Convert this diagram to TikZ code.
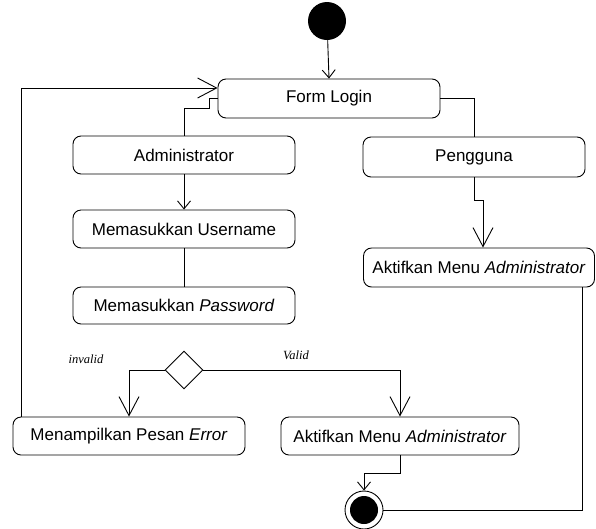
\documentclass[tikz,border=0pt]{standalone}
\usepackage{fontspec}
\setmainfont{Liberation Sans}
\newfontfamily\serifit{Liberation Serif}
\usetikzlibrary{arrows.meta,shapes.geometric,calc}
\begin{document}
\begin{tikzpicture}[x=1pt,y=-1pt,
  line width=0.9pt,
  act/.style={draw, rounded corners=8pt, minimum height=38pt, inner sep=0pt,
    font=\fontsize{17}{20}\selectfont},
  big/.style={-{Straight Barb[length=19pt,width=20pt,line width=0.9pt]}},
  small/.style={-{Straight Barb[length=8pt,width=13pt,line width=0.9pt]}},
  guard/.style={font=\serifit\itshape\fontsize{12.5}{14}\selectfont}]
\useasboundingbox (0,0) rectangle (596,528);
\node[circle, fill=black, minimum size=38pt, inner sep=0pt] (start) at (327,21) {};
\node[act, minimum width=222pt, minimum height=39pt] (form) at (329,98.5) {Form Login};
\node[act, minimum width=222pt] (admin) at (184,155) {Administrator};
\node[act, minimum width=222pt, minimum height=40pt] (peng) at (474,157) {Pengguna};
\node[act, minimum width=222pt] (user) at (184,229) {Memasukkan Username};
\node[act, minimum width=222pt, minimum height=37pt] (pass) at (184,305.5) {Memasukkan \textit{Password}};
\node[act, minimum width=231pt, minimum height=39pt] (akt1) at (479,267.5) {Aktifkan Menu \textit{Administrator}};
\node[diamond, draw, minimum width=38pt, minimum height=38pt, inner sep=0pt] (dec) at (184,370) {};
\node[act, minimum width=232pt] (err) at (129,436) {Menampilkan Pesan \textit{Error}};
\node[act, minimum width=238pt] (akt2) at (400,436) {Aktifkan Menu \textit{Administrator}};
\node[circle, draw, minimum size=38pt, inner sep=0pt] (end) at (364,510) {};
\fill (end.center) circle (14);
\node[guard] (linv) at (86,359) {invalid};
\node[guard] (lval) at (296,355) {Valid};
% connectors
\draw[small] (start) -- (form.north);
\draw[big] ([xshift=9pt]err.north west) |- ([yshift=10.5pt]form.west);
\draw (form.west) -- ++(-8,0) -- ++(0,9.5) -| (admin.north);
\draw (form.east) -| (peng.north);
\draw[small] (admin.south) -- (user.north);
\draw (user.south) -- (pass.north);
\draw[big] (peng.south) -- ++(0,23) -| ([xshift=4pt]akt1.north);
\draw ([xshift=103pt]akt1.south) |- (end.east);
\draw[big] (dec.west) -| (err.north);
\draw[big] (dec.east) -| (akt2.north);
\draw[small] (akt2.south) -- ++(0,18) -| (end.north);
\end{tikzpicture}
\end{document}
